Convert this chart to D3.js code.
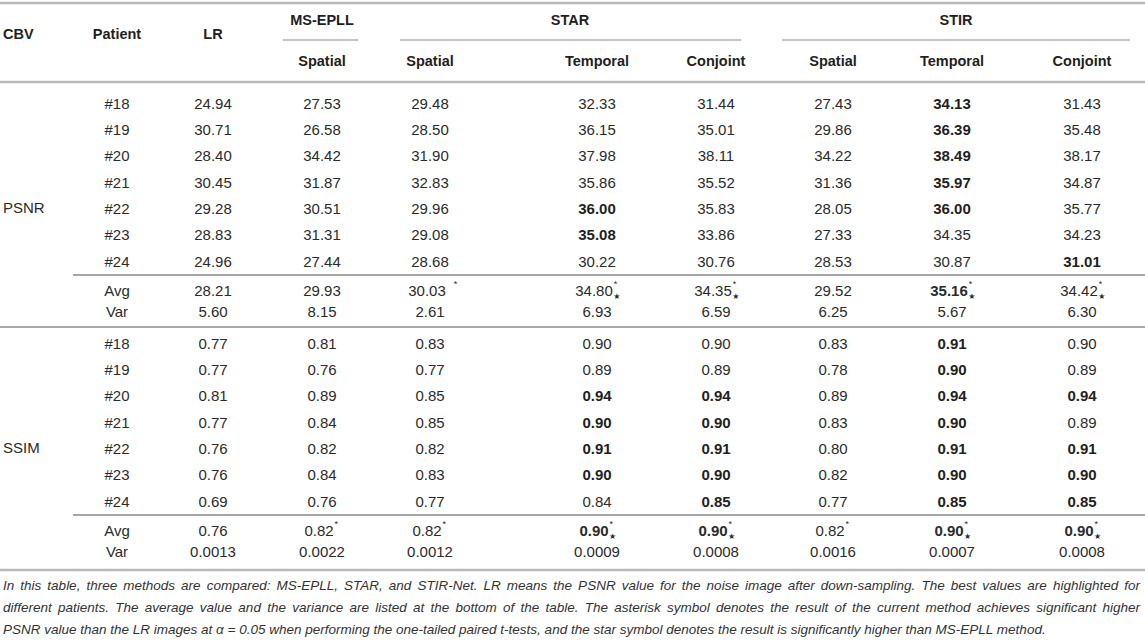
<!DOCTYPE html>
<html>
<head>
<meta charset="utf-8">
<script src="https://cdn.jsdelivr.net/npm/d3@7"></script>
<style>
  body { margin: 0; background: #ffffff; }
  svg { display: block; font-family: "Liberation Sans", Arial, "DejaVu Sans", sans-serif; }
</style>
</head>
<body>
<div id="table"></div>
<script>
// table content
const metrics = ["PSNR", "SSIM"];
const patients = ["#18", "#19", "#20", "#21", "#22", "#23", "#24"];
const summaryRows = ["Avg", "Var"];
const methodGroups = [
    {name: "MS-EPLL", cols: ["ms_s"]},
    {name: "STAR", cols: ["star_s", "star_t", "star_c"]},
    {name: "STIR", cols: ["stir_s", "stir_t", "stir_c"]}
];
const columnKeys = ["lr", "ms_s", "star_s", "star_t", "star_c", "stir_s", "stir_t", "stir_c"];
const columnLabels = ["LR", "Spatial", "Spatial", "Temporal", "Conjoint", "Spatial", "Temporal", "Conjoint"];

const psnrValues = [
    ["24.94", "27.53", "29.48", "32.33", "31.44", "27.43", "34.13", "31.43"],
    ["30.71", "26.58", "28.50", "36.15", "35.01", "29.86", "36.39", "35.48"],
    ["28.40", "34.42", "31.90", "37.98", "38.11", "34.22", "38.49", "38.17"],
    ["30.45", "31.87", "32.83", "35.86", "35.52", "31.36", "35.97", "34.87"],
    ["29.28", "30.51", "29.96", "36.00", "35.83", "28.05", "36.00", "35.77"],
    ["28.83", "31.31", "29.08", "35.08", "33.86", "27.33", "34.35", "34.23"],
    ["24.96", "27.44", "28.68", "30.22", "30.76", "28.53", "30.87", "31.01"]
];
const psnrBold = [[6], [6], [6], [6], [3, 6], [3], [7]];
const psnrAvg = ["28.21", "29.93", "30.03", "34.80", "34.35", "29.52", "35.16", "34.42"];
const psnrAvgBold = [6];
const psnrAvgMarks = ["", "", " *", "*★", "*★", "", "*★", "*★"];
const psnrVar = ["5.60", "8.15", "2.61", "6.93", "6.59", "6.25", "5.67", "6.30"];

const ssimValues = [
    ["0.77", "0.81", "0.83", "0.90", "0.90", "0.83", "0.91", "0.90"],
    ["0.77", "0.76", "0.77", "0.89", "0.89", "0.78", "0.90", "0.89"],
    ["0.81", "0.89", "0.85", "0.94", "0.94", "0.89", "0.94", "0.94"],
    ["0.77", "0.84", "0.85", "0.90", "0.90", "0.83", "0.90", "0.89"],
    ["0.76", "0.82", "0.82", "0.91", "0.91", "0.80", "0.91", "0.91"],
    ["0.76", "0.84", "0.83", "0.90", "0.90", "0.82", "0.90", "0.90"],
    ["0.69", "0.76", "0.77", "0.84", "0.85", "0.77", "0.85", "0.85"]
];
const ssimBold = [[6], [6], [3, 4, 6, 7], [3, 4, 6], [3, 4, 6, 7], [3, 4, 6, 7], [4, 6, 7]];
const ssimAvg = ["0.76", "0.82", "0.82", "0.90", "0.90", "0.82", "0.90", "0.90"];
const ssimAvgBold = [3, 4, 6, 7];
const ssimAvgMarks = ["", "*", "*", "*★", "*★", "*", "*★", "*★"];
const ssimVar = ["0.0013", "0.0022", "0.0012", "0.0009", "0.0008", "0.0016", "0.0007", "0.0008"];

const captionLines = [
    "In this table, three methods are compared: MS-EPLL, STAR, and STIR-Net. LR means the PSNR value for the noise image after down-sampling. The best values are highlighted for",
    "different patients. The average value and the variance are listed at the bottom of the table. The asterisk symbol denotes the result of the current method achieves significant higher",
    "PSNR value than the LR images at α = 0.05 when performing the one-tailed paired t-tests, and the star symbol denotes the result is significantly higher than MS-EPLL method."
];

function main() {
    const width = 1145, height = 644;
    const textColor = "#231f20";

    const svg = d3.select("#table").append("svg")
        .attr("width", width)
        .attr("height", height);

    const xCol = d3.scaleOrdinal()
        .domain(columnKeys)
        .range([213, 322, 430, 597, 716, 833, 952, 1082]);
    const xPatient = 117;

    // patient rows inside a block, then the two summary rows
    const yPatient = d3.scaleLinear().domain([0, patients.length - 1]).range([103, 261]);
    const ySummary = d3.scaleOrdinal().domain(summaryRows).range([290, 311]);
    const blockOffset = d3.scaleOrdinal().domain(metrics).range([0, 240]);

    // rules
    const rule = (x1, x2, y, color, w) => svg.append("line")
        .attr("x1", x1).attr("x2", x2).attr("y1", y).attr("y2", y)
        .attr("stroke", color).attr("stroke-width", w);

    rule(0, width, 3, "#b8b8b8", 2.5);
    rule(0, width, 82, "#b8b8b8", 2.5);
    rule(283, 358, 40, "#b0b0b0", 1.5);
    rule(400, 741, 40, "#b0b0b0", 1.5);
    rule(782, 1130, 40, "#b0b0b0", 1.5);

    metrics.forEach(m => {
        const off = blockOffset(m);
        rule(73, width, 275 + off, "#8a8a8a", 1.3);
    });
    rule(0, width, 327, "#8a8a8a", 1.3);
    rule(0, width, 570, "#b8b8b8", 2.5);

    // header
    const header = svg.append("g")
        .style("font-weight", "bold")
        .style("font-size", "14.5px")
        .attr("fill", textColor)
        .attr("dominant-baseline", "central");

    header.append("text").attr("x", 3).attr("y", 34).text("CBV");
    header.append("text").attr("x", xPatient).attr("y", 34).attr("text-anchor", "middle").text("Patient");
    header.append("text").attr("x", xCol("lr")).attr("y", 34).attr("text-anchor", "middle").text("LR");

    header.selectAll(".group-label")
        .data(methodGroups)
        .enter()
        .append("text")
        .attr("class", "group-label")
        .attr("text-anchor", "middle")
        .attr("y", 20)
        .attr("x", d => {
            if (d.cols.length === 1) return xCol(d.cols[0]);
            return d.name === "STAR" ? 570 : 956;
        })
        .text(d => d.name);

    header.selectAll(".col-label")
        .data(columnKeys.slice(1))
        .enter()
        .append("text")
        .attr("class", "col-label")
        .attr("text-anchor", "middle")
        .attr("x", d => xCol(d))
        .attr("y", 61)
        .text((d, i) => columnLabels[i + 1]);

    // body
    const body = svg.append("g")
        .style("font-size", "15px")
        .attr("fill", "#2b2b2b")
        .attr("dominant-baseline", "central");

    const blocks = [
        {metric: "PSNR", values: psnrValues, bold: psnrBold, avg: psnrAvg, avgBold: psnrAvgBold, marks: psnrAvgMarks, vars: psnrVar},
        {metric: "SSIM", values: ssimValues, bold: ssimBold, avg: ssimAvg, avgBold: ssimAvgBold, marks: ssimAvgMarks, vars: ssimVar}
    ];

    blocks.forEach(b => {
        const off = blockOffset(b.metric);

        // metric label is centred over the whole block (patients + Avg/Var)
        body.append("text")
            .attr("x", 3)
            .attr("y", (yPatient(0) + ySummary("Var")) / 2 + off)
            .text(b.metric);

        patients.forEach((p, i) => {
            const y = yPatient(i) + off;
            body.append("text").attr("x", xPatient).attr("y", y).attr("text-anchor", "middle").text(p);
            body.selectAll(null)
                .data(b.values[i])
                .enter()
                .append("text")
                .attr("x", (d, j) => xCol(columnKeys[j]))
                .attr("y", y)
                .attr("text-anchor", "middle")
                .attr("fill", (d, j) => b.bold[i].includes(j) ? textColor : null)
                .style("font-weight", (d, j) => b.bold[i].includes(j) ? "bold" : "normal")
                .text(d => d);
        });

        // Avg row with significance marks
        const yAvg = ySummary("Avg") + off;
        body.append("text").attr("x", xPatient).attr("y", yAvg).attr("text-anchor", "middle").text("Avg");
        b.avg.forEach((v, j) => {
            const mark = b.marks[j];
            const t = body.append("text")
                .attr("x", xCol(columnKeys[j]))
                .attr("y", yAvg)
                .attr("text-anchor", "middle")
                .style("font-weight", b.avgBold.includes(j) ? "bold" : "normal")
                .text(v);
            if (!mark) return;
            const w = t.node().getComputedTextLength();
            const gap = mark.startsWith(" ") ? 8 : 1;
            const cx = xCol(columnKeys[j]) - 3;
            t.attr("x", cx);
            const mx = cx + w / 2 + gap;
            body.append("text")
                .attr("x", mx)
                .attr("y", yAvg - 6)
                .style("font-size", "9px")
                .text("*");
            if (mark.includes("★")) {
                body.append("text")
                    .attr("x", mx - 0.5)
                    .attr("y", yAvg + 6)
                    .style("font-size", "8px")
                    .style("font-family", "'DejaVu Sans', sans-serif")
                    .text("★");
            }
        });

        const yVar = ySummary("Var") + off;
        body.append("text").attr("x", xPatient).attr("y", yVar).attr("text-anchor", "middle").text("Var");
        body.selectAll(null)
            .data(b.vars)
            .enter()
            .append("text")
            .attr("x", (d, j) => xCol(columnKeys[j]))
            .attr("y", yVar)
            .attr("text-anchor", "middle")
            .text(d => d);
    });

    // caption, justified on the first two lines
    const capWidth = 1137;
    const caption = svg.append("g")
        .style("font-size", "13.5px")
        .style("font-style", "italic")
        .attr("fill", "#333333");

    captionLines.forEach((line, i) => {
        const t = caption.append("text")
            .attr("x", 3)
            .attr("y", 590 + i * 22)
            .text(line);
        if (i < captionLines.length - 1) {
            const len = t.node().getComputedTextLength();
            const spaces = line.split(" ").length - 1;
            t.attr("word-spacing", (capWidth - len) / spaces);
        }
    });
}

main();
</script>
</body>
</html>
